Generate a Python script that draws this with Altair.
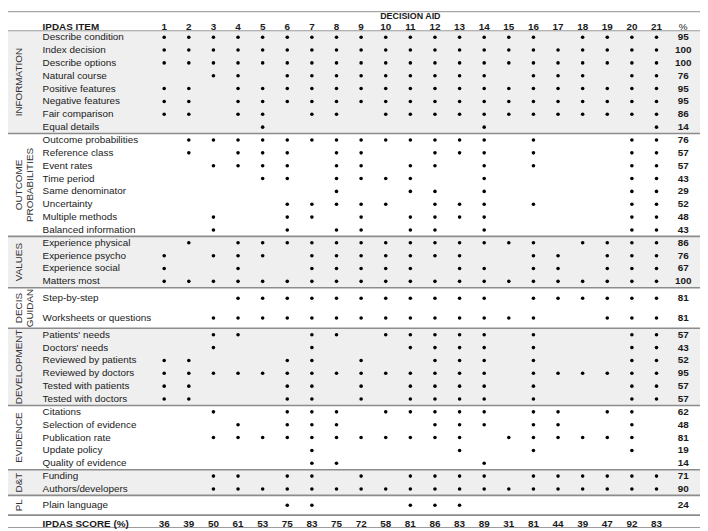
import altair as alt
import pandas as pd

# ---------------- data ----------------
aids = list(range(1, 22))

groups = ["INFORMATION", "OUTCOME\nPROBABILITIES", "VALUES", "DECIS\nGUIDAN",
          "DEVELOPMENT", "EVIDENCE", "D&T", "PL"]

items_information = ["Describe condition", "Index decision", "Describe options", "Natural course",
                     "Positive features", "Negative features", "Fair comparison", "Equal details"]
items_outcome = ["Outcome probabilities", "Reference class", "Event rates", "Time period",
                 "Same denominator", "Uncertainty", "Multiple methods", "Balanced information"]
items_values = ["Experience physical", "Experience psycho", "Experience social", "Matters most"]
items_decision = ["Step-by-step", "Worksheets or questions"]
items_development = ["Patients' needs", "Doctors' needs", "Reviewed by patients",
                     "Reviewed by doctors", "Tested with patients", "Tested with doctors"]
items_evidence = ["Citations", "Selection of evidence", "Publication rate", "Update policy",
                  "Quality of evidence"]
items_dt = ["Funding", "Authors/developers"]
items_pl = ["Plain language"]

group_items = [items_information, items_outcome, items_values, items_decision,
               items_development, items_evidence, items_dt, items_pl]

# decision aids that meet each item
met_information = [
    [1, 2, 3, 4, 5, 6, 7, 8, 9, 10, 11, 12, 13, 14, 15, 16, 18, 19, 20, 21],
    [1, 2, 3, 4, 5, 6, 7, 8, 9, 10, 11, 12, 13, 14, 15, 16, 17, 18, 19, 20, 21],
    [1, 2, 3, 4, 5, 6, 7, 8, 9, 10, 11, 12, 13, 14, 15, 16, 17, 18, 19, 20, 21],
    [3, 4, 6, 7, 8, 9, 10, 11, 12, 13, 14, 16, 17, 18, 20, 21],
    [1, 2, 4, 5, 6, 7, 8, 9, 10, 11, 12, 13, 14, 15, 16, 17, 18, 19, 20, 21],
    [1, 2, 4, 5, 6, 7, 8, 9, 10, 11, 12, 13, 14, 15, 16, 17, 18, 19, 20, 21],
    [1, 2, 4, 5, 7, 8, 10, 11, 12, 13, 14, 15, 16, 17, 18, 19, 20, 21],
    [5, 14, 21],
]
met_outcome = [
    [2, 3, 4, 5, 6, 7, 8, 9, 10, 11, 12, 13, 14, 16, 20, 21],
    [2, 4, 5, 6, 8, 9, 12, 13, 14, 16, 20, 21],
    [3, 4, 5, 6, 8, 9, 11, 12, 14, 16, 20, 21],
    [5, 6, 8, 9, 10, 11, 14, 20, 21],
    [8, 11, 12, 14, 20, 21],
    [6, 7, 8, 9, 10, 12, 13, 14, 16, 20, 21],
    [3, 6, 7, 9, 11, 12, 13, 14, 20, 21],
    [3, 6, 8, 9, 11, 12, 14, 20, 21],
]
met_values = [
    [2, 4, 5, 6, 7, 8, 9, 10, 11, 12, 13, 14, 15, 16, 18, 19, 20, 21],
    [1, 3, 4, 5, 7, 8, 9, 10, 11, 12, 13, 16, 17, 19, 20, 21],
    [1, 4, 7, 8, 9, 10, 11, 13, 14, 16, 17, 19, 20, 21],
    [1, 2, 3, 4, 5, 6, 7, 8, 9, 10, 11, 12, 13, 14, 15, 16, 17, 18, 19, 20, 21],
]
met_decision = [
    [4, 5, 6, 7, 8, 9, 10, 11, 12, 13, 14, 16, 17, 18, 19, 20, 21],
    [3, 4, 5, 6, 7, 8, 9, 10, 11, 12, 13, 14, 15, 16, 19, 20, 21],
]
met_development = [
    [3, 4, 7, 8, 10, 11, 12, 13, 14, 16, 20, 21],
    [3, 7, 11, 12, 13, 14, 16, 20, 21],
    [1, 2, 6, 7, 9, 12, 13, 14, 16, 20, 21],
    [1, 2, 3, 4, 5, 6, 7, 8, 9, 10, 11, 12, 13, 14, 16, 17, 18, 19, 20, 21],
    [1, 2, 6, 7, 9, 11, 12, 13, 14, 16, 20, 21],
    [1, 2, 6, 7, 9, 11, 12, 13, 14, 16, 20, 21],
]
met_evidence = [
    [3, 6, 7, 8, 10, 11, 12, 13, 14, 16, 17, 19, 20],
    [4, 6, 7, 8, 12, 13, 14, 16, 17, 20],
    [3, 4, 5, 6, 7, 8, 9, 10, 11, 12, 13, 15, 16, 17, 18, 19, 20],
    [7, 13, 16, 20],
    [7, 8, 14],
]
met_dt = [
    [3, 4, 6, 7, 9, 11, 12, 13, 14, 16, 17, 18, 19, 20, 21],
    [3, 4, 5, 6, 7, 8, 9, 10, 11, 12, 13, 14, 15, 16, 17, 18, 19, 20, 21],
]
met_pl = [
    [6, 7, 11, 12, 13],
]
group_met = [met_information, met_outcome, met_values, met_decision,
             met_development, met_evidence, met_dt, met_pl]

pct_information = [95, 100, 100, 76, 95, 95, 86, 14]
pct_outcome = [76, 57, 57, 43, 29, 52, 48, 43]
pct_values = [86, 76, 67, 100]
pct_decision = [81, 81]
pct_development = [57, 43, 52, 95, 57, 57]
pct_evidence = [62, 48, 81, 19, 14]
pct_dt = [71, 90]
pct_pl = [24]
group_pct = [pct_information, pct_outcome, pct_values, pct_decision,
             pct_development, pct_evidence, pct_dt, pct_pl]

ipdas_score = [36, 39, 50, 61, 53, 75, 83, 75, 72, 58, 81, 86, 83, 89, 31, 81, 44, 39, 47, 92, 83]

# ---------------- layout / style ----------------
FONT = "Liberation Sans"
FS = 10
TXT = "#1a1a1a"
BAND = "#efefef"
SEP = "#8c8c8c"
COL1_PX, COL_STEP = 166.0, 24.9


def px2v(px):
    return 1 + (px - COL1_PX) / COL_STEP


X_LO, X_HI = px2v(8), px2v(708)
Y_TOP, Y_BOT = 8.0, 531.0
shaded = [True, False, True, False, True, False, True, False]
pitch = [13, 13, 13, 20, 13, 13, 13, 13]
pad_top = [6.5, 6.5, 6.5, 10.5, 6.5, 6.5, 6.5, 10]
pad_bot = [6.5, 6.5, 6.5, 10.5, 6.5, 6.5, 6.5, 10]
GROUPS_START = 28.0
HEADER_Y, HEADER_LINE = 24.0, 28.0
TITLE_Y, TOP_LINE = 13.0, 8.6
LABEL_X = px2v(43)
PCT_X = px2v(691)
GROUP_X = px2v(19.5)

rows, dots, bands, seps, glabels = [], [], [], [], []
cursor = GROUPS_START
for g, items in enumerate(group_items):
    top = cursor
    y = top + pad_top[g]
    for k, it in enumerate(items):
        yy = y + k * pitch[g]
        rows.append({"label": it, "y": yy, "x": LABEL_X, "pct": str(group_pct[g][k]), "px": PCT_X})
        for a in group_met[g][k]:
            dots.append({"x": a, "y": yy})
        last = yy
    bottom = last + pad_bot[g]
    if shaded[g]:
        bands.append({"x": X_LO, "x2": X_HI, "y": top, "y2": bottom})
    seps.append({"x": X_LO, "x2": X_HI, "y": bottom})
    glabels.append({"label": groups[g], "x": GROUP_X, "y": (top + bottom) / 2})
    cursor = bottom

SCORE_Y = cursor + 8.5

rows_df = pd.DataFrame(rows)
dots_df = pd.DataFrame(dots)
bands_df = pd.DataFrame(bands)
seps_df = pd.DataFrame(seps)
glab_df = pd.DataFrame(glabels)
head_df = pd.DataFrame({"x": aids, "y": HEADER_Y, "t": [str(a) for a in aids]})
score_df = pd.DataFrame({"x": aids, "y": SCORE_Y, "t": [str(s) for s in ipdas_score]})
misc_bold = pd.DataFrame([
    {"x": LABEL_X, "y": HEADER_Y, "t": "IPDAS ITEM"},
    {"x": LABEL_X, "y": SCORE_Y, "t": "IPDAS SCORE (%)"},
])
title_df = pd.DataFrame([{"x": (aids[0] + aids[-1]) / 2, "y": TITLE_Y, "t": "DECISION AID"}])
pcthead_df = pd.DataFrame([{"x": PCT_X, "y": HEADER_Y, "t": "%"}])
topline_df = pd.DataFrame([{"x": X_LO, "x2": X_HI, "y": TOP_LINE}])
headline_df = pd.DataFrame([{"x": X_LO, "x2": X_HI, "y": HEADER_LINE}])
botline_df = pd.DataFrame([{"x": X_LO, "x2": X_HI, "y": 530.5}])

xs = alt.Scale(domain=[X_LO, X_HI], nice=False, zero=False)
ysc = alt.Scale(domain=[Y_TOP, Y_BOT], reverse=True, nice=False, zero=False)


def X(f="x"):
    return alt.X(f"{f}:Q", scale=xs, axis=None)


def Y(f="y"):
    return alt.Y(f"{f}:Q", scale=ysc, axis=None)


band_layer = alt.Chart(bands_df).mark_rect(color=BAND).encode(
    x=X(), x2="x2:Q", y=Y(), y2="y2:Q")
sep_layer = alt.Chart(seps_df).mark_rule(color=SEP, strokeWidth=1.6).encode(
    x=X(), x2="x2:Q", y=Y())
top_layer = alt.Chart(topline_df).mark_rule(color="#a6a6a6", strokeWidth=1.2).encode(
    x=X(), x2="x2:Q", y=Y())
head_line = alt.Chart(headline_df).mark_rule(color="#9a9a9a", strokeWidth=1).encode(
    x=X(), x2="x2:Q", y=Y())
bot_line = alt.Chart(botline_df).mark_rule(color="#9a9a9a", strokeWidth=1).encode(
    x=X(), x2="x2:Q", y=Y())

glab_layer = alt.Chart(glab_df).mark_text(
    font=FONT, fontSize=10, color="#333333", angle=270, align="center",
    baseline="middle", lineHeight=10.5, lineBreak="\n").encode(
    x=X(), y=Y(), text="label:N")

item_layer = alt.Chart(rows_df).mark_text(
    font=FONT, fontSize=FS, color=TXT, align="left", baseline="middle").encode(
    x=X(), y=Y(), text="label:N")

pct_layer = alt.Chart(rows_df).mark_text(
    font=FONT, fontSize=FS, fontWeight="bold", color=TXT, align="center", baseline="middle").encode(
    x=X("px"), y=Y(), text="pct:N")

dot_layer = alt.Chart(dots_df).mark_point(
    filled=True, shape="circle", size=13, color="#000000", opacity=1).encode(
    x=X(), y=Y())

head_layer = alt.Chart(head_df).mark_text(
    font=FONT, fontSize=FS, fontWeight="bold", color=TXT, align="center", baseline="middle").encode(
    x=X(), y=Y(), text="t:N")
score_layer = alt.Chart(score_df).mark_text(
    font=FONT, fontSize=FS, fontWeight="bold", color=TXT, align="center", baseline="middle").encode(
    x=X(), y=Y(), text="t:N")
misc_layer = alt.Chart(misc_bold).mark_text(
    font=FONT, fontSize=FS, fontWeight="bold", color=TXT, align="left", baseline="middle").encode(
    x=X(), y=Y(), text="t:N")
title_layer = alt.Chart(title_df).mark_text(
    font=FONT, fontSize=9, fontWeight="bold", color=TXT, align="center", baseline="middle").encode(
    x=X(), y=Y(), text="t:N")
pcthead_layer = alt.Chart(pcthead_df).mark_text(
    font=FONT, fontSize=FS, color=TXT, align="center", baseline="middle").encode(
    x=X(), y=Y(), text="t:N")

chart = alt.layer(
    band_layer, sep_layer, top_layer, head_line, bot_line,
    glab_layer, item_layer, pct_layer, dot_layer,
    head_layer, score_layer, misc_layer, title_layer, pcthead_layer,
).properties(
    width=700, height=523, padding=0,
    autosize=alt.AutoSizeParams(type="none"),
).configure_view(strokeWidth=0)

chart.save("out.html", embed_options={"renderer": "svg", "actions": False})
